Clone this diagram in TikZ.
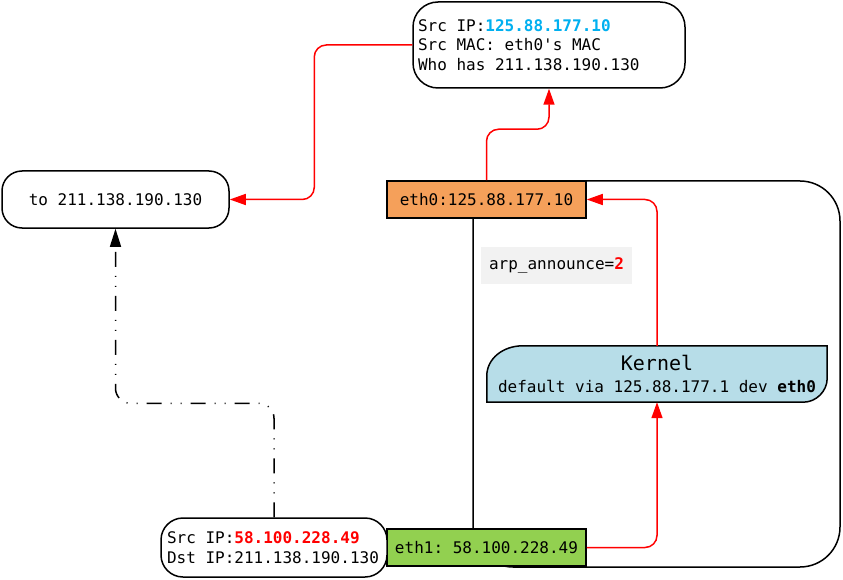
\documentclass[tikz,border=0pt]{standalone}
\usepackage{fontspec}
\setmonofont{DejaVu Sans Mono}[WordSpace={1,0,0}]
\usepackage{tikz}
\usetikzlibrary{arrows.meta,backgrounds,calc}
\usepackage{xcolor}
\definecolor{ethorange}{RGB}{245,160,90}
\definecolor{ethgreen}{RGB}{146,208,80}
\definecolor{kernblue}{RGB}{183,221,232}
\definecolor{notegray}{RGB}{242,242,242}
\definecolor{ipblue}{RGB}{0,176,240}
\tikzstyle{mono} = [font=\ttfamily\fontsize{16}{19.5}\selectfont]
\tikzstyle{pktbox} = [mono, draw, fill=white, line width=1.5pt, rounded corners=22pt, inner xsep=5pt]
\tikzstyle{iface} = [mono, draw, line width=1.5pt, minimum width=199pt, minimum height=37pt]
\tikzstyle{redarrow} = [line width=1.5pt, red, rounded corners=12pt, -{Triangle[length=16pt,width=11pt]}]
\tikzstyle{dashdotdot} = [line width=1.5pt, rounded corners=15pt, dash pattern=on 15pt off 9pt on 1pt off 9pt on 1pt off 9pt, -{Triangle[length=18pt,width=11pt]}]

\begin{document}
\begin{tikzpicture}[x=1pt, y=-1pt]
\useasboundingbox (0,0) rectangle (843,580);

% Host
\node[draw, line width=1.5pt, rounded corners=40pt, minimum width=367pt, minimum height=386pt] (host) at (656.5,374) {};

% Kernel
\node[mono, minimum width=340pt, minimum height=56pt, align=center] (kernel) at (657,374)
    {{\fontsize{20}{24}\selectfont Kernel}\\[2pt]default via 125.88.177.1 dev \textbf{eth0}};
\begin{scope}[on background layer]
\draw[line width=1.5pt, fill=kernblue] (kernel.south west) -- ($(kernel.north west)+(0,30)$)
    .. controls ($(kernel.north west)+(0,13)$) and ($(kernel.north west)+(16,0)$) .. ($(kernel.north west)+(36,0)$)
    -- (kernel.north east) -- ($(kernel.south east)+(0,-24)$)
    .. controls ($(kernel.south east)+(0,-11)$) and ($(kernel.south east)+(-11,0)$) .. ($(kernel.south east)+(-24,0)$)
    -- cycle;
\end{scope}

% Interfaces
\node[iface, fill=ethorange] (eth0) at (486.5,199.5) {eth0:125.88.177.10};
\node[iface, fill=ethgreen] (eth1) at (486.5,547.5) {eth1: 58.100.228.49};
\node[mono, fill=notegray, minimum width=151pt, minimum height=37pt] (announce) at (556.5,265.5)
    {arp\_announce=\textcolor{red}{\textbf{2}}};

% Packets
\node[pktbox, rounded corners=25pt, minimum width=272pt, minimum height=86pt, text width=262pt, align=flush left] (arp) at (549,45)
    {Src IP:\textcolor{ipblue}{\textbf{125.88.177.10}}\\Src MAC: eth0's MAC\\Who has 211.138.190.130};
\node[pktbox, rounded corners=20pt, minimum width=227pt, minimum height=57pt] (dst) at (115.5,199.5) {to 211.138.190.130};
\node[pktbox, inner xsep=6pt, minimum width=226pt, minimum height=59pt, text width=214pt, align=flush left] (orig) at (274,547.5)
    {Src IP:\textcolor{red}{\textbf{58.100.228.49}}\\Dst IP:211.138.190.130};

% Arrows
\draw[redarrow] (eth1.east) -| (kernel.south);
\draw[redarrow] (kernel.north) |- (eth0.east);
\draw[redarrow] (eth0.north) -- ++(0,-51) -| (arp.south);
\draw[redarrow] (arp.west) -- ++(-98,0) |- (dst.east);
\draw[dashdotdot] (orig.north) -- ++(0,-114) -| (dst.south);
\end{tikzpicture}
\end{document}
